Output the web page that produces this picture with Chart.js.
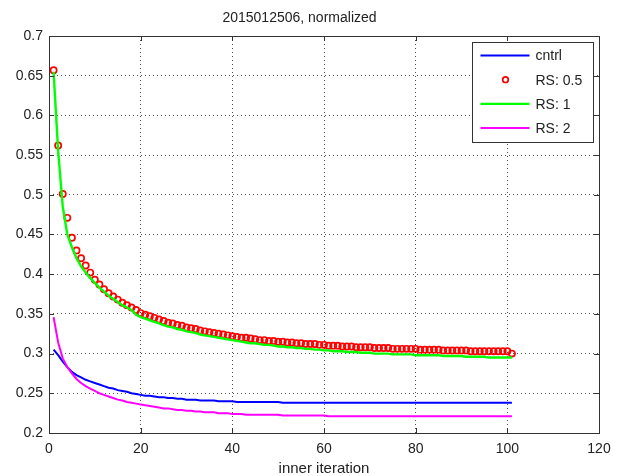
<!DOCTYPE html>
<html>
<head>
<meta charset="utf-8">
<script src="https://cdn.jsdelivr.net/npm/chart.js@4.4.1/dist/chart.umd.min.js"></script>
<style>
  html, body { margin: 0; padding: 0; background: #fff; }
  #wrap { width: 619px; height: 476px; }
</style>
</head>
<body>
<div id="wrap"><canvas id="grafico" width="619" height="476"></canvas></div>
<script>
// inner iteration 1..101
const iteracoes = [
  1, 2, 3, 4, 5, 6, 7, 8, 9, 10, 11, 12, 13, 14, 15, 16, 17, 18, 19, 20,
  21, 22, 23, 24, 25, 26, 27, 28, 29, 30, 31, 32, 33, 34, 35, 36, 37, 38, 39, 40,
  41, 42, 43, 44, 45, 46, 47, 48, 49, 50, 51, 52, 53, 54, 55, 56, 57, 58, 59, 60,
  61, 62, 63, 64, 65, 66, 67, 68, 69, 70, 71, 72, 73, 74, 75, 76, 77, 78, 79, 80,
  81, 82, 83, 84, 85, 86, 87, 88, 89, 90, 91, 92, 93, 94, 95, 96, 97, 98, 99, 100, 101
];

const cntrl = [
  0.305, 0.298, 0.290, 0.283, 0.277, 0.273, 0.270, 0.267, 0.265, 0.263,
  0.261, 0.259, 0.257, 0.256, 0.254, 0.253, 0.252, 0.250, 0.249, 0.248,
  0.247, 0.247, 0.246, 0.245, 0.245, 0.244, 0.244, 0.243, 0.243, 0.242,
  0.242, 0.242, 0.241, 0.241, 0.241, 0.241, 0.240, 0.240, 0.240, 0.240,
  0.239, 0.239, 0.239, 0.239, 0.239, 0.239, 0.239, 0.239, 0.239, 0.239,
  0.238, 0.238, 0.238, 0.238, 0.238, 0.238, 0.238, 0.238, 0.238, 0.238,
  0.238, 0.238, 0.238, 0.238, 0.238, 0.238, 0.238, 0.238, 0.238, 0.238,
  0.238, 0.238, 0.238, 0.238, 0.238, 0.238, 0.238, 0.238, 0.238, 0.238,
  0.238, 0.238, 0.238, 0.238, 0.238, 0.238, 0.238, 0.238, 0.238, 0.238,
  0.238, 0.238, 0.238, 0.238, 0.238, 0.238, 0.238, 0.238, 0.238, 0.238, 0.238
];

const rs05 = [
  0.657, 0.562, 0.501, 0.471, 0.446, 0.430, 0.420, 0.411, 0.402, 0.393,
  0.387, 0.381, 0.376, 0.372, 0.368, 0.364, 0.361, 0.358, 0.355, 0.351,
  0.349, 0.347, 0.345, 0.343, 0.341, 0.339, 0.338, 0.336, 0.335, 0.333,
  0.332, 0.331, 0.329, 0.328, 0.327, 0.326, 0.325, 0.324, 0.323, 0.322,
  0.321, 0.320, 0.320, 0.319, 0.318, 0.317, 0.317, 0.316, 0.316, 0.315,
  0.315, 0.314, 0.314, 0.313, 0.313, 0.312, 0.312, 0.312, 0.311, 0.311,
  0.310, 0.310, 0.310, 0.309, 0.309, 0.309, 0.308, 0.308, 0.308, 0.308,
  0.307, 0.307, 0.307, 0.307, 0.306, 0.306, 0.306, 0.306, 0.306, 0.306,
  0.305, 0.305, 0.305, 0.305, 0.305, 0.304, 0.304, 0.304, 0.304, 0.304,
  0.304, 0.303, 0.303, 0.303, 0.303, 0.303, 0.303, 0.303, 0.303, 0.303, 0.300
];

const rs1 = [
  0.655, 0.555, 0.485, 0.450, 0.434, 0.420, 0.410, 0.402, 0.395, 0.389,
  0.383, 0.378, 0.373, 0.369, 0.365, 0.361, 0.358, 0.355, 0.349, 0.346,
  0.344, 0.342, 0.340, 0.338, 0.336, 0.334, 0.333, 0.331, 0.330, 0.328,
  0.327, 0.326, 0.324, 0.323, 0.322, 0.321, 0.320, 0.319, 0.318, 0.317,
  0.316, 0.315, 0.314, 0.313, 0.313, 0.312, 0.311, 0.311, 0.310, 0.309,
  0.309, 0.308, 0.308, 0.307, 0.307, 0.306, 0.306, 0.305, 0.305, 0.304,
  0.304, 0.303, 0.303, 0.303, 0.302, 0.302, 0.302, 0.301, 0.301, 0.301,
  0.300, 0.300, 0.300, 0.300, 0.299, 0.299, 0.299, 0.299, 0.299, 0.298,
  0.298, 0.298, 0.298, 0.298, 0.298, 0.297, 0.297, 0.297, 0.297, 0.297,
  0.296, 0.296, 0.296, 0.296, 0.296, 0.295, 0.295, 0.295, 0.295, 0.295, 0.295
];

const rs2 = [
  0.346, 0.314, 0.294, 0.283, 0.275, 0.268, 0.263, 0.259, 0.256, 0.253,
  0.250, 0.248, 0.246, 0.244, 0.242, 0.241, 0.239, 0.238, 0.237, 0.236,
  0.235, 0.234, 0.233, 0.232, 0.231, 0.231, 0.230, 0.229, 0.229, 0.228,
  0.228, 0.227, 0.227, 0.226, 0.226, 0.226, 0.225, 0.225, 0.225, 0.224,
  0.224, 0.224, 0.223, 0.223, 0.223, 0.223, 0.223, 0.223, 0.223, 0.223,
  0.222, 0.222, 0.222, 0.222, 0.222, 0.222, 0.222, 0.222, 0.222, 0.222,
  0.221, 0.221, 0.221, 0.221, 0.221, 0.221, 0.221, 0.221, 0.221, 0.221,
  0.221, 0.221, 0.221, 0.221, 0.221, 0.221, 0.221, 0.221, 0.221, 0.221,
  0.221, 0.221, 0.221, 0.221, 0.221, 0.221, 0.221, 0.221, 0.221, 0.221,
  0.221, 0.221, 0.221, 0.221, 0.221, 0.221, 0.221, 0.221, 0.221, 0.221, 0.221
];

const ticksX = [0, 20, 40, 60, 80, 100, 120];
const ticksY = [0.2, 0.25, 0.3, 0.35, 0.4, 0.45, 0.5, 0.55, 0.6, 0.65, 0.7];

const pontos = serie => iteracoes.map((it, i) => ({ x: it, y: serie[i] }));

const FONTE = "Arial, 'Liberation Sans', Helvetica, sans-serif";

// moldura do eixo com marcas internas (estilo matlab)
const moldura = {
  id: 'moldura',
  afterDatasetsDraw(chart) {
    const { ctx, chartArea: a, scales } = chart;
    ctx.save();
    ctx.strokeStyle = '#333';
    ctx.lineWidth = 1;
    const t = 5;
    ticksX.forEach(v => {
      const x = Math.round(scales.x.getPixelForValue(v)) + 0.5;
      ctx.beginPath();
      ctx.moveTo(x, a.bottom); ctx.lineTo(x, a.bottom - t);
      ctx.moveTo(x, a.top); ctx.lineTo(x, a.top + t);
      ctx.stroke();
    });
    ticksY.forEach(v => {
      const y = Math.round(scales.y.getPixelForValue(v)) + 0.5;
      ctx.beginPath();
      ctx.moveTo(a.left, y); ctx.lineTo(a.left + t, y);
      ctx.moveTo(a.right, y); ctx.lineTo(a.right - t, y);
      ctx.stroke();
    });
    ctx.strokeRect(Math.round(a.left) + 0.5, Math.round(a.top) + 0.5,
      Math.round(a.right - a.left), Math.round(a.bottom - a.top));
    ctx.restore();
  }
};

// legenda em caixa no canto superior direito
const legenda = {
  id: 'legenda',
  afterDraw(chart) {
    const { ctx, chartArea: a } = chart;
    const w = 121, h = 100;
    const x0 = Math.round(a.right - 6 - w) + 0.5;
    const y0 = Math.round(a.top + 6) + 0.5;
    ctx.save();
    ctx.fillStyle = '#fff';
    ctx.fillRect(x0, y0, w, h);
    ctx.strokeStyle = '#333';
    ctx.lineWidth = 1;
    ctx.strokeRect(x0, y0, w, h);
    ctx.font = '14px ' + FONTE;
    ctx.textBaseline = 'middle';
    chart.data.datasets.forEach((ds, i) => {
      const y = y0 + 13 + i * 24.2;
      if (ds.showLine === false) {
        ctx.beginPath();
        ctx.arc(x0 + 33, y, 2.8, 0, Math.PI * 2);
        ctx.strokeStyle = ds.pointBorderColor;
        ctx.lineWidth = 1.7;
        ctx.stroke();
      } else {
        ctx.beginPath();
        ctx.moveTo(x0 + 8, y);
        ctx.lineTo(x0 + 57, y);
        ctx.strokeStyle = ds.borderColor;
        ctx.lineWidth = ds.borderWidth;
        ctx.stroke();
      }
      ctx.fillStyle = '#222';
      ctx.fillText(ds.label, x0 + 63, y + 1);
    });
    ctx.restore();
  }
};

// grade pontilhada
const grade = {
  color: '#555',
  lineWidth: 1,
  drawTicks: false
};

const ctx = document.getElementById('grafico').getContext('2d');
const grafico = new Chart(ctx, {
  type: 'line',
  data: {
    datasets: [
      {
        label: 'cntrl',
        data: pontos(cntrl),
        borderColor: '#0000ff',
        borderWidth: 2,
        pointRadius: 0,
        order: 4
      },
      {
        label: 'RS: 0.5',
        data: pontos(rs05),
        showLine: false,
        pointStyle: 'circle',
        pointRadius: 3.1,
        pointBorderWidth: 1.7,
        pointBorderColor: '#ff0000',
        pointBackgroundColor: 'rgba(0,0,0,0)',
        borderColor: '#ff0000',
        order: 3
      },
      {
        label: 'RS: 1',
        data: pontos(rs1),
        borderColor: '#00ff00',
        borderWidth: 2.4,
        pointRadius: 0,
        order: 2
      },
      {
        label: 'RS: 2',
        data: pontos(rs2),
        borderColor: '#ff00ff',
        borderWidth: 2,
        pointRadius: 0,
        order: 1
      }
    ]
  },
  options: {
    responsive: false,
    animation: false,
    layout: { padding: { left: 0, right: 20, top: 0, bottom: 0 } },
    plugins: {
      legend: { display: false },
      tooltip: { enabled: false },
      title: {
        display: true,
        text: '2015012506, normalized',
        color: '#222',
        font: { family: FONTE, size: 14, weight: 'normal', lineHeight: 1.2 },
        padding: { top: 10, bottom: 9.2 }
      }
    },
    scales: {
      x: {
        type: 'linear',
        min: 0,
        max: 120,
        afterFit: s => { s.height = 43; },
        afterBuildTicks: s => { s.ticks = ticksX.map(v => ({ value: v })); },
        border: { display: false, dash: [1, 3] },
        grid: grade,
        ticks: {
          color: '#222',
          font: { family: FONTE, size: 14 },
          padding: 8,
          maxRotation: 0
        },
        title: {
          display: true,
          text: 'inner iteration',
          color: '#222',
          font: { family: FONTE, size: 15, lineHeight: 1 },
          padding: 0
        }
      },
      y: {
        type: 'linear',
        min: 0.2,
        max: 0.7,
        afterFit: s => { s.width = 49; },
        afterBuildTicks: s => { s.ticks = ticksY.map(v => ({ value: v })); },
        border: { display: false, dash: [1, 3] },
        grid: grade,
        ticks: {
          color: '#222',
          font: { family: FONTE, size: 14 },
          padding: 6,
          callback: v => String(Number(v.toFixed(2)))
        }
      }
    }
  },
  plugins: [moldura, legenda]
});
</script>
</body>
</html>
